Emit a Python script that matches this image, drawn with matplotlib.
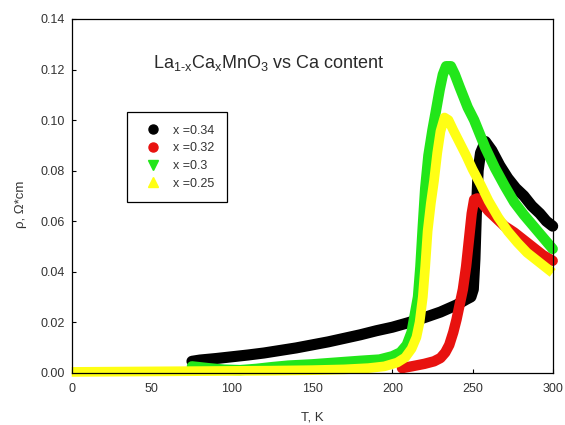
import matplotlib
matplotlib.use('Agg')
import matplotlib.pyplot as plt
from matplotlib.lines import Line2D
from matplotlib.ticker import FormatStrFormatter

plt.rcParams['font.family'] = ['Liberation Sans', 'DejaVu Sans']
plt.rcParams['mathtext.fontset'] = 'custom'
plt.rcParams['mathtext.rm'] = 'Liberation Sans'
plt.rcParams['mathtext.it'] = 'Liberation Sans:italic'
plt.rcParams['mathtext.default'] = 'regular'

# ---- data ----
labels = ['x =0.34', 'x =0.32', 'x =0.3', 'x =0.25']

T_034 = [75, 80, 90, 100, 110, 120, 130, 140, 150, 160, 170, 180, 190, 200, 210, 220,
         230, 240, 246, 249, 250.5, 251.5, 252.5, 253.5, 255, 258, 262, 267, 272, 277,
         282, 287, 292, 296, 300]
rho_034 = [0.0045, 0.0050, 0.0056, 0.0063, 0.0070, 0.0078, 0.0088, 0.0098, 0.0110, 0.0122,
           0.0136, 0.0150, 0.0166, 0.0180, 0.0198, 0.0218, 0.0240, 0.0268, 0.0290, 0.0300,
           0.0330, 0.0450, 0.0650, 0.0800, 0.0870, 0.0915, 0.0880, 0.0820, 0.0770, 0.0730,
           0.0700, 0.0660, 0.0630, 0.0600, 0.0580]

T_032 = [206, 212, 220, 226, 230, 233, 235.5, 238, 240, 242, 244, 246, 248, 249.5, 251,
         253, 256, 260, 265, 270, 276, 282, 288, 294, 300]
rho_032 = [0.0018, 0.0025, 0.0035, 0.0045, 0.0058, 0.0080, 0.0110, 0.0160, 0.0210, 0.0270,
           0.0330, 0.0420, 0.0540, 0.0630, 0.0685, 0.0690, 0.0670, 0.0640, 0.0610, 0.0580,
           0.0555, 0.0525, 0.0495, 0.0465, 0.0443]

T_030 = [75, 85, 95, 105, 115, 125, 135, 150, 165, 180, 192, 200, 205, 209, 212, 214, 216,
         217.5, 219, 220.5, 222.5, 225, 227, 229.5, 231.5, 233.5, 236.5, 239, 242, 247, 251,
         258, 264, 270, 276, 282, 288, 294, 300]
rho_030 = [0.0025, 0.0018, 0.0012, 0.0010, 0.0015, 0.0022, 0.0028, 0.0033, 0.0040, 0.0047,
           0.0052, 0.0065, 0.0080, 0.0110, 0.0160, 0.0230, 0.0300, 0.0420, 0.0580, 0.0730,
           0.0860, 0.0960, 0.1030, 0.1120, 0.1180, 0.1213, 0.1213, 0.1180, 0.1130, 0.1050,
           0.1000, 0.0890, 0.0810, 0.0740, 0.0675, 0.0625, 0.0580, 0.0535, 0.0490]

T_025 = [0, 25, 50, 75, 100, 125, 150, 170, 185, 195, 203, 208, 212, 215, 217, 219, 220.5,
         222, 224, 226, 228, 230, 232.5, 235, 238, 242, 246, 250, 255, 260, 266, 272, 278,
         284, 290, 295, 300]
rho_025 = [0.0003, 0.0004, 0.0005, 0.0006, 0.0007, 0.0008, 0.0010, 0.0013, 0.0018, 0.0025,
           0.0040, 0.0060, 0.0095, 0.0140, 0.0200, 0.0300, 0.0420, 0.0560, 0.0670, 0.0760,
           0.0870, 0.0955, 0.1010, 0.1000, 0.0960, 0.0910, 0.0860, 0.0805, 0.0745, 0.0680,
           0.0615, 0.0560, 0.0515, 0.0475, 0.0445, 0.0420, 0.0395]

x_ticks = [0, 50, 100, 150, 200, 250, 300]
y_ticks = [0.00, 0.02, 0.04, 0.06, 0.08, 0.10, 0.12, 0.14]

colors = ['#000000', '#e8120f', '#22e61a', '#ffff14']
markers = ['o', 'o', 'v', '^']
widths = [8, 7.5, 7.5, 7]

# ---- figure ----
fig = plt.figure(figsize=(5.65, 4.25), dpi=100)
ax = fig.add_axes([0.1269, 0.1231, 0.8513, 0.8322])

series = [(T_034, rho_034), (T_032, rho_032), (T_030, rho_030), (T_025, rho_025)]
for i, ((T, r), c) in enumerate(zip(series, colors)):
    cap = 'butt' if i == 3 else 'round'
    ax.plot(T, r, color=c, lw=widths[i], solid_capstyle=cap, solid_joinstyle='round',
            clip_on=False)

ax.set_xlim(0, 300)
ax.set_ylim(0, 0.14)
ax.set_xticks(x_ticks)
ax.set_yticks(y_ticks)
ax.yaxis.set_major_formatter(FormatStrFormatter('%.2f'))
ax.tick_params(direction='in', length=3, width=0.8, labelsize=9,
               labelcolor='#333333', top=False, right=False)
ax.tick_params(axis='x', pad=7.5)
ax.tick_params(axis='y', pad=4.8)
for s in ax.spines.values():
    s.set_linewidth(0.9)
    s.set_color('black')

ax.set_xlabel('T, K', fontsize=9.5, color='#333333')
ax.xaxis.set_label_coords(0.5, -0.110)
ax.set_ylabel('ρ, Ω*cm', fontsize=9.5, color='#333333')
ax.yaxis.set_label_coords(-0.093, 0.4756)

ax.text(0.1696, 0.8606, 'La$_{1\u2010x}$Ca$_x$MnO$_3$ vs Ca content',
        transform=ax.transAxes, fontsize=13, color='#2a2a2a',
        ha='left', va='baseline')

handles = [Line2D([], [], linestyle='None', marker=m, color=c, markersize=6.5)
           for m, c in zip(markers, colors)]
leg = ax.legend(handles, labels, loc='upper left', bbox_to_anchor=(0.114, 0.736),
                borderaxespad=0, fancybox=False, edgecolor='black', framealpha=1,
                fontsize=9, borderpad=1.0, handlelength=2.2, handletextpad=0.5,
                labelspacing=0.45, numpoints=1)
leg.get_frame().set_linewidth(0.9)
for t in leg.get_texts():
    t.set_color('#333333')

fig.savefig('out.png', dpi=100)
